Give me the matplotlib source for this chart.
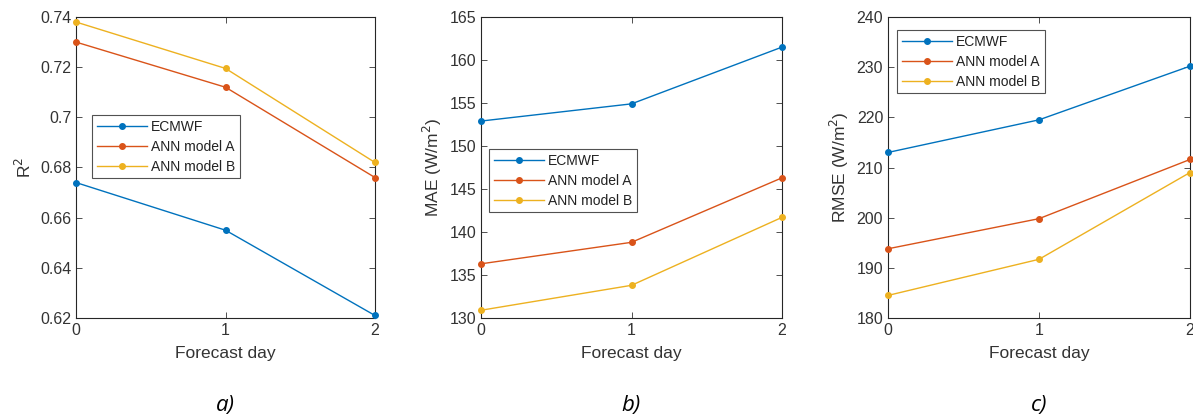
import numpy as np
import matplotlib
matplotlib.use('Agg')
import matplotlib.pyplot as plt

days = [0, 1, 2]
series_names = ['ECMWF', 'ANN model A', 'ANN model B']

r2_ecmwf = [0.674, 0.655, 0.621]
r2_ann_a = [0.730, 0.712, 0.676]
r2_ann_b = [0.738, 0.7195, 0.682]

mae_ecmwf = [152.9, 154.9, 161.5]
mae_ann_a = [136.3, 138.8, 146.3]
mae_ann_b = [130.9, 133.8, 141.7]

rmse_ecmwf = [213.0, 219.5, 230.2]
rmse_ann_a = [193.8, 199.8, 211.6]
rmse_ann_b = [184.5, 191.7, 209.0]

colors = ['#0072bd', '#d95319', '#edb120']
txt = '#333333'

plt.rcParams['font.family'] = ['Liberation Sans', 'DejaVu Sans']

fig = plt.figure(figsize=(11.93, 4.2), dpi=100)
W, H = 1193, 420

panels = [
    dict(rect=(76, 17, 375, 318), data=[r2_ecmwf, r2_ann_a, r2_ann_b],
         ylim=(0.62, 0.74), yticks=[0.62, 0.64, 0.66, 0.68, 0.70, 0.72, 0.74],
         ylabels=['0.62', '0.64', '0.66', '0.68', '0.7', '0.72', '0.74'],
         ylabel='R$^2$', legend=(92, 115), label='a)'),
    dict(rect=(481, 17, 782, 318), data=[mae_ecmwf, mae_ann_a, mae_ann_b],
         ylim=(130, 165), yticks=list(range(130, 166, 5)),
         ylabels=[str(v) for v in range(130, 166, 5)],
         ylabel='MAE (W/m$^2$)', legend=(489, 149), label='b)'),
    dict(rect=(888, 17, 1190, 318), data=[rmse_ecmwf, rmse_ann_a, rmse_ann_b],
         ylim=(180, 240), yticks=list(range(180, 241, 10)),
         ylabels=[str(v) for v in range(180, 241, 10)],
         ylabel='RMSE (W/m$^2$)', legend=(897, 30), label='c)'),
]

for p in panels:
    x0, y0, x1, y1 = p['rect']
    ax = fig.add_axes([x0 / W, 1 - y1 / H, (x1 - x0) / W, (y1 - y0) / H])
    for vals, name, c in zip(p['data'], series_names, colors):
        ax.plot(days, vals, color=c, lw=1.0, marker='o', ms=4, label=name, clip_on=False, zorder=3)
    ax.set_xlim(0, 2)
    ax.set_ylim(*p['ylim'])
    ax.set_xticks(days)
    ax.set_yticks(p['yticks'])
    ax.set_yticklabels(p['ylabels'])
    ax.tick_params(direction='in', top=True, right=True, length=4, width=0.6,
                   labelsize=11.5, colors=txt, labelcolor=txt)
    for s in ax.spines.values():
        s.set_linewidth(0.8)
        s.set_color('#262626')
    ax.set_xlabel('Forecast day', fontsize=12.5, color=txt, labelpad=6)
    ax.set_ylabel(p['ylabel'], fontsize=12.5, color=txt, labelpad=4)

    lx0, ly0 = p['legend']
    leg = ax.legend(loc='upper left',
                    bbox_to_anchor=((lx0 - x0) / (x1 - x0), 1 - (ly0 - y0) / (y1 - y0)),
                    fontsize=10, frameon=True, fancybox=False, borderpad=0.35,
                    labelspacing=0.42, handlelength=3.6, handletextpad=0.3,
                    borderaxespad=0)
    leg.get_frame().set_edgecolor('#262626')
    leg.get_frame().set_linewidth(0.8)
    for t in leg.get_texts():
        t.set_color('#222222')

    fig.text(((x0 + x1) / 2) / W, 1 - 405 / H, p['label'], fontsize=16, style='italic',
             family=['Open Sans', 'DejaVu Sans'], ha='center', va='center')

fig.savefig('out.png', dpi=100)
